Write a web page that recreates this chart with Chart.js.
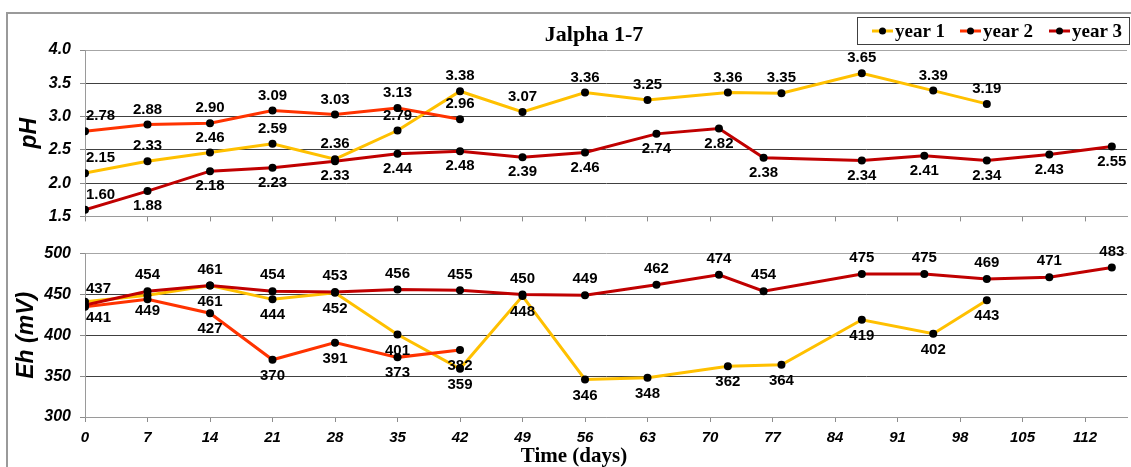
<!DOCTYPE html>
<html>
<head>
<meta charset="utf-8">
<script src="https://cdn.jsdelivr.net/npm/chart.js@4.4.1/dist/chart.umd.min.js"></script>
<style>
  html, body { margin: 0; padding: 0; background: #fff; overflow: hidden; }
  #frame { position: absolute; left: 6px; top: 12px; width: 1200px; height: 520px; border: 2px solid #9a9a9a; }
  .panel { position: absolute; left: 0; width: 1131px; }
  #ph-wrap { top: 0; height: 235px; }
  #eh-wrap { top: 235px; height: 232px; }
</style>
</head>
<body>
<div id="frame"></div>
<div class="panel" id="ph-wrap"><canvas id="ph-chart"></canvas></div>
<div class="panel" id="eh-wrap"><canvas id="eh-chart"></canvas></div>
<script>
// sampling days for each year
const daysYear1 = [0, 7, 14, 21, 28, 35, 42, 49, 56, 63, 72, 78, 87, 95, 101];
const daysYear2 = [0, 7, 14, 21, 28, 35, 42];
const daysYear3 = [0, 7, 14, 21, 28, 35, 42, 49, 56, 64, 71, 76, 87, 94, 101, 108, 115];

// pH
const phYear1 = [2.15, 2.33, 2.46, 2.59, 2.36, 2.79, 3.38, 3.07, 3.36, 3.25, 3.36, 3.35, 3.65, 3.39, 3.19];
const phYear2 = [2.78, 2.88, 2.90, 3.09, 3.03, 3.13, 2.96];
const phYear3 = [1.60, 1.88, 2.18, 2.23, 2.33, 2.44, 2.48, 2.39, 2.46, 2.74, 2.82, 2.38, 2.34, 2.41, 2.34, 2.43, 2.55];

// Eh (mV)
const ehYear1 = [441, 449, 461, 444, 452, 401, 359, 448, 346, 348, 362, 364, 419, 402, 443];
const ehYear2 = [435, 444, 427, 370, 391, 373, 382];
const ehYear3 = [437, 454, 461, 454, 453, 456, 455, 450, 449, 462, 474, 454, 475, 475, 469, 471, 483];

const seriesNames = ['year 1', 'year 2', 'year 3'];
const seriesColors = ['#FFC000', '#FF3300', '#C00000'];

const SANS = '"Liberation Sans", Arial, sans-serif';
const SERIF = '"Liberation Serif", "Times New Roman", serif';

function toPoints(days, values) {
    return days.map((d, i) => ({ x: d, y: values[i] }));
}

function makeDataset(idx, days, values, sides) {
    return {
        label: seriesNames[idx],
        data: toPoints(days, values),
        borderColor: seriesColors[idx],
        borderWidth: 3,
        pointRadius: 4,
        pointBackgroundColor: '#000',
        pointBorderWidth: 0,
        tension: 0,
        order: 3 - idx,
        labelSide: sides
    };
}

// value labels next to the markers
const valueLabels = {
    id: 'valueLabels',
    afterDatasetsDraw(chart, args, opts) {
        const ctx = chart.ctx;
        const area = chart.chartArea;
        ctx.save();
        ctx.font = 'bold 15px ' + SANS;
        ctx.fillStyle = '#000';
        ctx.textAlign = 'center';
        ctx.textBaseline = 'middle';
        chart.data.datasets.forEach((ds, i) => {
            const meta = chart.getDatasetMeta(i);
            meta.data.forEach((pt, j) => {
                const side = ds.labelSide[j];
                if (!side) return;
                const text = opts.format(ds.data[j].y);
                const w = ctx.measureText(text).width;
                let x = pt.x;
                if (x - w / 2 < area.left + 1) x = area.left + 1 + w / 2;
                const y = side === 'above' ? pt.y - opts.gap : pt.y + opts.gap;
                ctx.fillText(text, x, y);
            });
        });
        ctx.restore();
    }
};

// chart title and boxed legend on the top panel
const headerPlugin = {
    id: 'header',
    afterDraw(chart) {
        const ctx = chart.ctx;
        ctx.save();
        ctx.fillStyle = '#000';
        ctx.font = 'bold 22px ' + SERIF;
        ctx.textAlign = 'center';
        ctx.textBaseline = 'alphabetic';
        ctx.fillText('Jalpha 1-7', 594, 41);

        ctx.strokeStyle = '#404040';
        ctx.lineWidth = 1;
        ctx.strokeRect(857.5, 17.5, 272, 27);
        const starts = [872, 960, 1049];
        ctx.font = 'bold 19px ' + SERIF;
        ctx.textAlign = 'left';
        ctx.textBaseline = 'middle';
        starts.forEach((sx, i) => {
            ctx.strokeStyle = seriesColors[i];
            ctx.lineWidth = 3;
            ctx.beginPath();
            ctx.moveTo(sx, 31);
            ctx.lineTo(sx + 21, 31);
            ctx.stroke();
            ctx.fillStyle = '#000';
            ctx.beginPath();
            ctx.arc(sx + 10.5, 31, 3.5, 0, Math.PI * 2);
            ctx.fill();
            ctx.fillText(seriesNames[i], sx + 23, 32);
        });
        ctx.restore();
    }
};

const footerPlugin = {
    id: 'footer',
    afterDraw(chart) {
        const ctx = chart.ctx;
        ctx.save();
        ctx.fillStyle = '#000';
        ctx.font = 'bold 21px ' + SERIF;
        ctx.textAlign = 'center';
        ctx.textBaseline = 'middle';
        ctx.fillText('Time (days)', 574, 222);
        ctx.restore();
    }
};

const tickFont = { family: SANS, size: 16, style: 'italic', weight: 'bold' };
const titleFont = { family: SANS, size: 23, style: 'italic', weight: 'bold', lineHeight: 1 };

function gridColor(min, max) {
    return ctx => (ctx.tick && (ctx.tick.value === min || ctx.tick.value === max)) ? '#a6a6a6' : '#404040';
}

function xScale(showLabels, height) {
    return {
        type: 'linear',
        min: 0,
        max: 116.7,
        afterFit: s => { s.height = height; },
        ticks: {
            display: showLabels,
            stepSize: 7,
            autoSkip: false,
            includeBounds: false,
            maxRotation: 0,
            padding: 7,
            color: '#000',
            font: { family: SANS, size: 15, style: 'italic', weight: 'bold' }
        },
        grid: { drawOnChartArea: false, tickLength: 5, tickColor: '#8c8c8c' },
        border: { color: '#9a9a9a', width: 1 }
    };
}

const phSides = [
    Array(phYear1.length).fill('above'),
    Array(phYear2.length).fill('above'),
    ['above'].concat(Array(phYear3.length - 1).fill('below'))
];
const ehSides = [
    Array(ehYear1.length).fill('below'),
    [null, null].concat(Array(ehYear2.length - 2).fill('below')),
    Array(ehYear3.length).fill('above')
];

new Chart(document.getElementById('ph-chart'), {
    type: 'line',
    data: {
        datasets: [
            makeDataset(0, daysYear1, phYear1, phSides[0]),
            makeDataset(1, daysYear2, phYear2, phSides[1]),
            makeDataset(2, daysYear3, phYear3, phSides[2])
        ]
    },
    options: {
        responsive: true,
        maintainAspectRatio: false,
        animation: false,
        layout: { padding: { top: 50, left: 0, right: 0, bottom: 0 } },
        plugins: {
            legend: { display: false },
            tooltip: { enabled: false },
            valueLabels: { format: v => v.toFixed(2), gap: 15 }
        },
        scales: {
            x: xScale(false, 16),
            y: {
                min: 1.5,
                max: 4.0,
                afterFit: s => { s.width = 85; },
                ticks: { stepSize: 0.5, callback: v => v.toFixed(1), font: tickFont, color: '#000', padding: 9 },
                grid: { color: gridColor(1.5, 4), tickColor: '#8c8c8c', tickLength: 5 },
                border: { color: '#9a9a9a', width: 1 },
                title: { display: true, text: 'pH', font: titleFont, color: '#000', padding: { top: 18, bottom: 0 } }
            }
        }
    },
    plugins: [valueLabels, headerPlugin]
});

new Chart(document.getElementById('eh-chart'), {
    type: 'line',
    data: {
        datasets: [
            makeDataset(0, daysYear1, ehYear1, ehSides[0]),
            makeDataset(1, daysYear2, ehYear2, ehSides[1]),
            makeDataset(2, daysYear3, ehYear3, ehSides[2])
        ]
    },
    options: {
        responsive: true,
        maintainAspectRatio: false,
        animation: false,
        layout: { padding: { top: 15, left: 0, right: 0, bottom: 0 } },
        plugins: {
            legend: { display: false },
            tooltip: { enabled: false },
            valueLabels: { format: v => String(v), gap: 16 }
        },
        scales: {
            x: xScale(true, 50),
            y: {
                min: 300,
                max: 500,
                afterFit: s => { s.width = 85; },
                ticks: { stepSize: 50, font: tickFont, color: '#000', padding: 9 },
                grid: { color: gridColor(300, 500), tickColor: '#8c8c8c', tickLength: 5 },
                border: { color: '#9a9a9a', width: 1 },
                title: { display: true, text: 'Eh (mV)', font: titleFont, color: '#000', padding: { top: 15, bottom: 0 } }
            }
        }
    },
    plugins: [valueLabels, footerPlugin]
});
</script>
</body>
</html>
